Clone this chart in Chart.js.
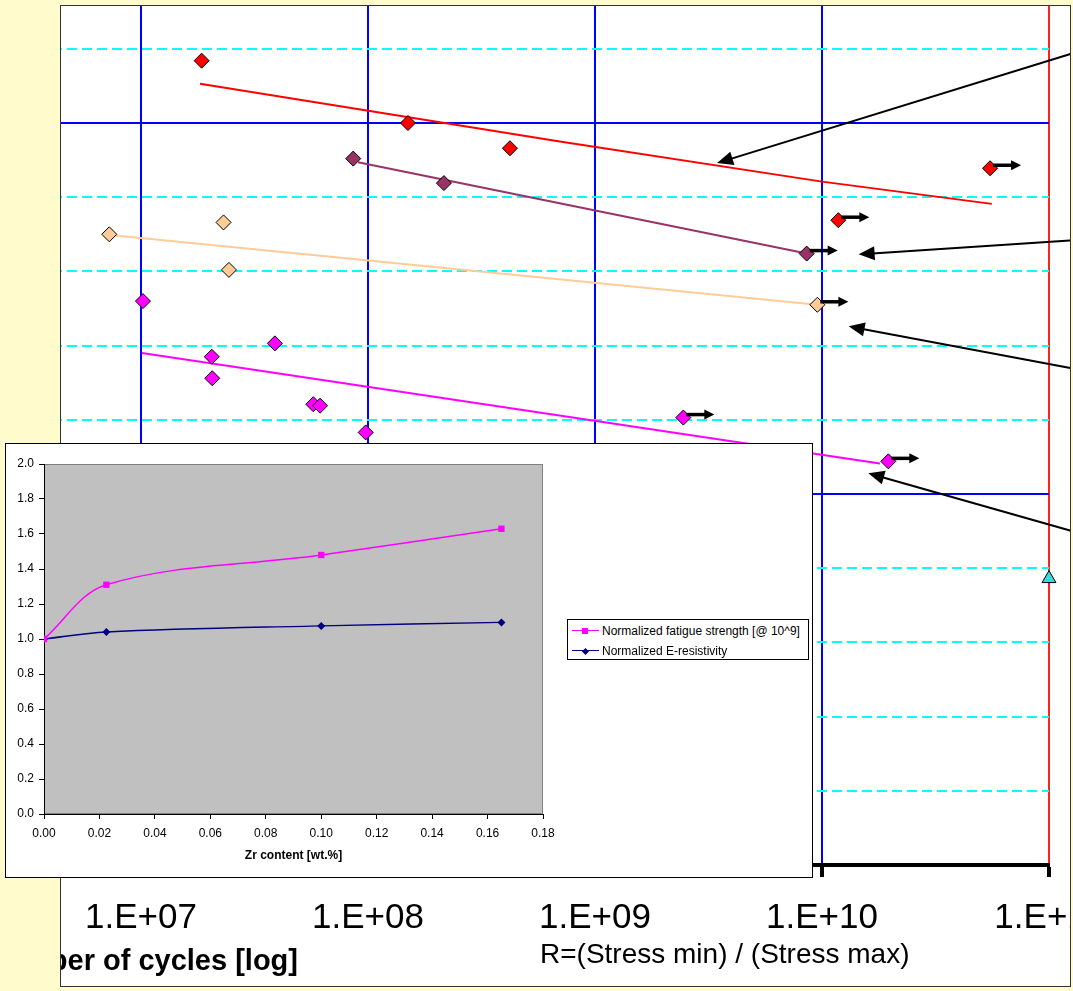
<!DOCTYPE html>
<html>
<head>
<meta charset="utf-8">
<title>Fatigue strength vs Zr content</title>
<script src="https://cdn.jsdelivr.net/npm/chart.js@4.4.1/dist/chart.umd.min.js"></script>
<style>
  html, body { margin: 0; padding: 0; }
  body {
    width: 1073px; height: 991px; position: relative; overflow: hidden;
    background: #FFFBCC;
    font-family: "Liberation Sans", Arial, sans-serif;
  }
  #main {
    position: absolute; left: 60px; top: 5px; width: 1009px; height: 980px;
    border: 1px solid #333; background: #fff; overflow: hidden;
  }
  #mainCanvas { position: absolute; left: -61px; top: -46px; }
  .axis-title { position: absolute; white-space: nowrap; color: #000; line-height: 1; }
  #cyclesTitle { right: 772px; top: 940px; font-size: 29px; font-weight: bold; }
  #ratioTitle { left: 479px; top: 934px; font-size: 28px; }
  #inset {
    position: absolute; left: 5px; top: 443px; width: 806px; height: 433px;
    border: 1px solid #000; background: #fff;
  }
  #insetCanvas { position: absolute; left: 0; top: 0; }
  #insetLegend {
    position: absolute; left: 561px; top: 175px; width: 240px; height: 39px;
    border: 1px solid #000; background: #fff; font-size: 12px; color: #000;
  }
  .lrow { position: absolute; left: 0; height: 20px; line-height: 20px; white-space: nowrap; }
  .lline { position: absolute; left: 4px; top: 9px; width: 27px; height: 0; border-top: 1.5px solid; }
  .lmark { position: absolute; }
  .lmark.sq { left: 14px; top: 7px; width: 6px; height: 6px; }
  .lmark.dia { left: 15px; top: 7.5px; width: 5px; height: 5px; transform: rotate(45deg); }
  .ltext { position: absolute; left: 34px; top: 0; }
</style>
</head>
<body>
<div id="main">
  <canvas id="mainCanvas" width="1150" height="1040"></canvas>
  <div class="axis-title" id="cyclesTitle">Number of cycles [log]</div>
  <div class="axis-title" id="ratioTitle">R=(Stress min) / (Stress max)</div>
</div>
<div id="inset">
  <canvas id="insetCanvas" width="806" height="433"></canvas>
  <div id="insetLegend"></div>
</div>
<script>
// S-N data (cycles to failure vs stress)
const xTickValues = [1e7, 1e8, 1e9, 1e10, 1e11];

const redCycles = [1.85e7, 1.50e8, 4.22e8, 1.18e10, 5.50e10];
const redStress = [108.4, 100.0, 96.6, 86.9, 93.9];
const redRunout = [false, false, false, true, true];
const redFitCycles = [1.82e7, 7.0e8, 1.0e10, 5.6e10];
const redFitStress = [105.3, 97.5, 92.1, 89.1];

const purpleCycles = [8.61e7, 2.16e8, 8.56e9];
const purpleStress = [95.2, 91.9, 82.4];
const purpleRunout = [false, false, true];
const purpleFitCycles = [9.04e7, 8.56e9];
const purpleFitStress = [94.7, 82.4];

const peachCycles = [7.25e6, 2.31e7, 2.44e7, 9.54e9];
const peachStress = [85.0, 86.6, 80.2, 75.5];
const peachRunout = [false, false, false, true];
const peachFitCycles = [7.3e6, 9.54e9];
const peachFitStress = [84.9, 75.5];

const magentaCycles = [1.02e7, 2.05e7, 2.06e7, 3.89e7, 5.74e7, 6.15e7, 9.77e7, 2.45e9, 1.96e10];
const magentaStress = [76.0, 68.5, 65.6, 70.3, 62.1, 61.9, 58.3, 60.3, 54.4];
const magentaRunout = [false, false, false, false, false, false, false, true, true];
const magentaFitCycles = [1.01e7, 1.80e10];
const magentaFitStress = [69.0, 54.1];

const cyanCycles = [1e11];
const cyanStress = [38.6];

// callout arrows pointing at the fit lines (tail off to the right)
const calloutTailCycles = [1.44e11, 1.44e11, 1.44e11, 1.44e11];
const calloutTailStress = [109.9, 84.3, 66.6, 44.5];
const calloutTipCycles = [3.45e9, 1.45e10, 1.31e10, 1.60e10];
const calloutTipStress = [94.6, 82.3, 72.6, 52.8];

// inset: normalized values vs Zr content
const zrContent = [0, 0.0225, 0.1, 0.165];
const fatigueNorm = [1.0, 1.31, 1.48, 1.63];
const resistivityNorm = [1.0, 1.04, 1.075, 1.095];

Chart.defaults.font.family = '"Liberation Sans", Arial, sans-serif';
Chart.defaults.color = '#000';

function pts(xs, ys) {
    return xs.map((x, i) => ({ x: x, y: ys[i] }));
}

function pointSet(xs, ys, color, runout) {
    return {
        data: pts(xs, ys),
        showLine: false,
        pointStyle: 'rectRot',
        pointRadius: 7.5,
        backgroundColor: color,
        borderColor: '#000',
        borderWidth: 1,
        runout: runout,
        order: 1
    };
}

function fitLine(xs, ys, color) {
    return {
        data: pts(xs, ys),
        showLine: true,
        pointRadius: 0,
        borderColor: color,
        borderWidth: 2,
        fill: false,
        order: 2
    };
}

function drawArrowHead(ctx, x1, y1, x2, y2, len, half) {
    const a = Math.atan2(y2 - y1, x2 - x1);
    ctx.beginPath();
    ctx.moveTo(x2, y2);
    ctx.lineTo(x2 - len * Math.cos(a) + half * Math.sin(a), y2 - len * Math.sin(a) - half * Math.cos(a));
    ctx.lineTo(x2 - len * Math.cos(a) - half * Math.sin(a), y2 - len * Math.sin(a) + half * Math.cos(a));
    ctx.closePath();
    ctx.fill();
}

// little "run-out" arrows next to specimens that did not fail
const runoutArrows = {
    id: 'runoutArrows',
    afterDatasetsDraw(chart) {
        const ctx = chart.ctx;
        chart.data.datasets.forEach((ds, i) => {
            if (!ds.runout) return;
            chart.getDatasetMeta(i).data.forEach((pt, j) => {
                if (!ds.runout[j]) return;
                const x = pt.x, y = pt.y - 3;
                ctx.save();
                ctx.strokeStyle = '#000';
                ctx.fillStyle = '#000';
                ctx.lineWidth = 3.5;
                ctx.beginPath();
                ctx.moveTo(x + 3, y);
                ctx.lineTo(x + 22, y);
                ctx.stroke();
                drawArrowHead(ctx, x, y, x + 31, y, 10, 5);
                ctx.restore();
            });
        });
    }
};

// callout arrows
const callouts = {
    id: 'callouts',
    afterDraw(chart) {
        const ctx = chart.ctx;
        const xs = chart.scales.x, ys = chart.scales.y;
        ctx.save();
        ctx.strokeStyle = '#000';
        ctx.fillStyle = '#000';
        ctx.lineWidth = 2;
        calloutTipCycles.forEach((c, i) => {
            const x1 = xs.getPixelForValue(calloutTailCycles[i]);
            const y1 = ys.getPixelForValue(calloutTailStress[i]);
            const x2 = xs.getPixelForValue(c);
            const y2 = ys.getPixelForValue(calloutTipStress[i]);
            const a = Math.atan2(y2 - y1, x2 - x1);
            ctx.beginPath();
            ctx.moveTo(x1, y1);
            ctx.lineTo(x2 - 10 * Math.cos(a), y2 - 10 * Math.sin(a));
            ctx.stroke();
            drawArrowHead(ctx, x1, y1, x2, y2, 16, 7);
        });
        ctx.restore();
    }
};

function fmtCycles(v) {
    const e = Math.round(Math.log10(v));
    return '1.E+' + String(e).padStart(2, '0');
}

const mainChart = new Chart(document.getElementById('mainCanvas'), {
    type: 'scatter',
    data: {
        datasets: [
            fitLine(redFitCycles, redFitStress, '#FF0000'),
            fitLine(purpleFitCycles, purpleFitStress, '#993366'),
            fitLine(peachFitCycles, peachFitStress, '#FFCC99'),
            fitLine(magentaFitCycles, magentaFitStress, '#FF00FF'),
            pointSet(redCycles, redStress, '#FF0000', redRunout),
            pointSet(purpleCycles, purpleStress, '#993366', purpleRunout),
            pointSet(peachCycles, peachStress, '#FFCC99', peachRunout),
            pointSet(magentaCycles, magentaStress, '#FF00FF', magentaRunout),
            {
                data: pts(cyanCycles, cyanStress),
                showLine: false,
                pointStyle: 'triangle',
                pointRadius: 8,
                backgroundColor: '#33DDDD',
                borderColor: '#000',
                borderWidth: 1,
                clip: false,
                order: 0
            }
        ]
    },
    options: {
        responsive: false,
        animation: false,
        devicePixelRatio: 1,
        layout: { padding: { left: 22.3, right: 101, top: 14.6, bottom: 0 } },
        plugins: { legend: { display: false }, tooltip: { enabled: false } },
        scales: {
            x: {
                type: 'logarithmic',
                min: 3e6,
                max: 1e11,
                afterBuildTicks: (scale) => { scale.ticks = xTickValues.map(v => ({ value: v })); },
                afterFit: (scale) => { scale.height = 135; },
                grid: {
                    color: (c) => (c.tick && c.tick.value === 1e11) ? '#FF2020' : '#0000FF',
                    lineWidth: 2,
                    drawTicks: true,
                    tickLength: 12,
                    tickColor: '#000',
                    tickWidth: 4
                },
                border: { display: true, color: '#000', width: 4 },
                ticks: {
                    callback: (v) => fmtCycles(v),
                    font: { size: 35 },
                    color: '#000',
                    padding: 20,
                    maxRotation: 0,
                    autoSkip: false
                }
            },
            y: {
                min: 0,
                max: 120,
                afterFit: (scale) => { scale.width = 0; },
                ticks: { stepSize: 10, display: false },
                grid: {
                    color: (c) => (c.tick && c.tick.value % 50 === 0) ? 'rgba(0,0,0,0)' : '#00FFFF',
                    lineWidth: 2,
                    drawTicks: false
                },
                border: { display: false, dash: [10, 5] }
            },
            y2: {
                position: 'left',
                min: 0,
                max: 120,
                afterFit: (scale) => { scale.width = 0; },
                ticks: { stepSize: 50, display: false },
                grid: {
                    color: (c) => (c.tick && c.tick.value > 0 && c.tick.value % 50 === 0) ? '#0000FF' : 'rgba(0,0,0,0)',
                    lineWidth: 2,
                    drawTicks: false
                },
                border: { display: false }
            }
        }
    },
    plugins: [runoutArrows, callouts]
});

// grey plot area like the spreadsheet default
const plotBackground = {
    id: 'plotBackground',
    beforeDraw(chart) {
        const { ctx, chartArea: a } = chart;
        ctx.save();
        ctx.fillStyle = '#C0C0C0';
        ctx.fillRect(a.left, a.top, a.right - a.left, a.bottom - a.top);
        ctx.strokeStyle = '#808080';
        ctx.lineWidth = 1;
        ctx.strokeRect(a.left + 0.5, a.top + 0.5, a.right - a.left - 1, a.bottom - a.top - 1);
        ctx.restore();
    }
};

const insetChart = new Chart(document.getElementById('insetCanvas'), {
    type: 'scatter',
    data: {
        datasets: [
            {
                label: 'Normalized fatigue strength [@ 10^9]',
                data: pts(zrContent, fatigueNorm),
                showLine: true,
                tension: 0.35,
                borderColor: '#FF00FF',
                borderWidth: 1.5,
                backgroundColor: '#FF00FF',
                pointStyle: 'rect',
                pointRadius: 4.5,
                pointBorderWidth: 0
            },
            {
                label: 'Normalized E-resistivity',
                data: pts(zrContent, resistivityNorm),
                showLine: true,
                tension: 0.35,
                borderColor: '#000080',
                borderWidth: 1.5,
                backgroundColor: '#000080',
                pointStyle: 'rectRot',
                pointRadius: 4,
                pointBorderWidth: 0
            }
        ]
    },
    options: {
        responsive: false,
        animation: false,
        devicePixelRatio: 1,
        layout: { padding: { left: 0, right: 269, top: 20, bottom: 0 } },
        plugins: { legend: { display: false }, tooltip: { enabled: false } },
        scales: {
            x: {
                type: 'linear',
                min: 0,
                max: 0.18,
                afterFit: (scale) => { scale.height = 63; },
                ticks: { stepSize: 0.02, callback: (v) => v.toFixed(2), font: { size: 12 }, padding: 7 },
                grid: { drawOnChartArea: false, drawTicks: true, tickLength: 5, color: '#000' },
                border: { color: '#000', width: 1 },
                title: {
                    display: true,
                    text: 'Zr content [wt.%]',
                    font: { size: 12, weight: 'bold' },
                    padding: { top: 0, bottom: 14 }
                }
            },
            y: {
                min: 0,
                max: 2,
                afterFit: (scale) => { scale.width = 38; },
                ticks: { stepSize: 0.2, callback: (v) => v.toFixed(1), font: { size: 12 }, padding: 5 },
                grid: { drawOnChartArea: false, drawTicks: true, tickLength: 5, color: '#000' },
                border: { color: '#000', width: 1 }
            }
        }
    },
    plugins: [plotBackground]
});

// legend box for the inset, built from its datasets
const legendBox = document.getElementById('insetLegend');
insetChart.data.datasets.forEach((ds, i) => {
    const row = document.createElement('div');
    row.className = 'lrow';
    row.style.top = (1 + i * 20) + 'px';
    const line = document.createElement('span');
    line.className = 'lline';
    line.style.borderTopColor = ds.borderColor;
    const mark = document.createElement('span');
    mark.className = 'lmark ' + (ds.pointStyle === 'rect' ? 'sq' : 'dia');
    mark.style.background = ds.backgroundColor;
    const text = document.createElement('span');
    text.className = 'ltext';
    text.textContent = ds.label;
    row.appendChild(line);
    row.appendChild(mark);
    row.appendChild(text);
    legendBox.appendChild(row);
});
</script>
</body>
</html>
